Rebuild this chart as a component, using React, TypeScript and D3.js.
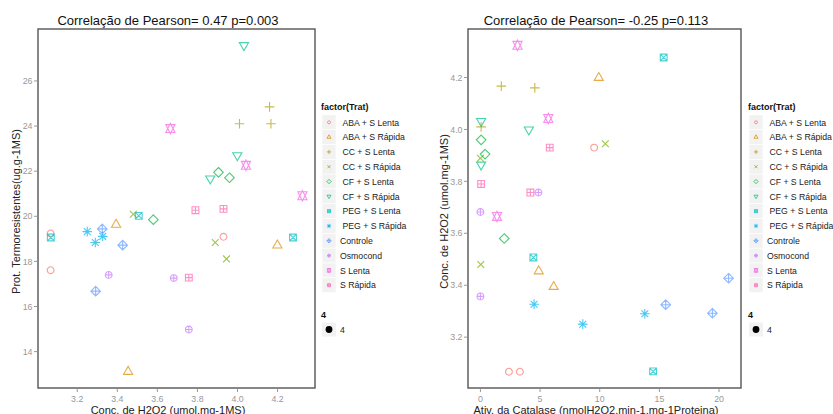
import * as d3 from "d3";

// treatment levels, in legend order
const treatments = [
  " ABA + S Lenta", " ABA + S Rápida", " CC + S Lenta", " CC + S Rápida",
  " CF + S Lenta", " CF + S Rápida", " PEG + S Lenta", " PEG + S Rápida",
  "Controle", "Osmocond", "S Lenta", "S Rápida",
];

// one entry per observation (3 per treatment)
const pointTrat = [0, 0, 0, 1, 1, 1, 2, 2, 2, 3, 3, 3, 4, 4, 4, 5, 5, 5,
  6, 6, 6, 7, 7, 7, 8, 8, 8, 9, 9, 9, 10, 10, 10, 11, 11, 11];

const h2o2 = [3.067, 3.067, 3.93, 3.394, 4.199, 3.454, 4.16, 4.01, 4.167,
  3.48, 3.889, 3.945, 3.905, 3.96, 3.58, 4.032, 3.999, 3.864,
  3.507, 3.068, 4.277, 3.25, 3.327, 3.29, 3.325, 3.427, 3.292,
  3.357, 3.682, 3.757, 3.665, 4.042, 4.324, 3.79, 3.93, 3.757];

const prot = [19.24, 17.61, 19.09, 19.63, 18.71, 13.11, 24.85, 24.1, 24.1,
  20.09, 18.84, 18.11, 21.95, 21.71, 19.85, 27.58, 22.7, 21.67,
  20.02, 19.06, 19.06, 19.32, 19.11, 18.84, 19.44, 18.72, 16.68,
  17.4, 17.26, 14.98, 23.89, 22.26, 20.91, 20.27, 20.33, 17.28];

const catalase = [2.39, 3.31, 9.53, 6.14, 9.92, 4.89, 4.56, 0.06, 1.75,
  0.03, 0.0, 10.47, 0.39, 0.06, 2.0, 0.06, 4.06, 0.06,
  4.44, 14.47, 15.36, 8.58, 4.5, 13.78, 15.53, 20.8, 19.44,
  0.0, 0.0, 4.86, 1.39, 5.69, 3.11, 0.06, 5.81, 4.19];

const leftXTicks = [3.2, 3.4, 3.6, 3.8, 4.0, 4.2];
const leftYTicks = [14, 16, 18, 20, 22, 24, 26];
const rightXTicks = [0, 5, 10, 15, 20];
const rightYTicks = [3.2, 3.4, 3.6, 3.8, 4.0, 4.2];

const palette = ["#F8766D", "#DE8C00", "#B79F00", "#7CAE00", "#00BA38", "#00C08B",
  "#00BFC4", "#00B4F0", "#619CFF", "#C77CFF", "#F564E3", "#FF64B0"];

const FONT = "'Liberation Sans', Arial, sans-serif";
const TRC0 = 1.5551203, TRC1 = 1.3467737, TRC2 = 0.7775602;

function symbolPath(pch: number, R: number) {
  const s2 = Math.SQRT2 * R;
  const circle = (r: number) => `M${-r},0A${r},${r} 0 1,0 ${r},0A${r},${r} 0 1,0 ${-r},0Z`;
  const plus = (c: number) => `M${-c},0H${c}M0,${-c}V${c}`;
  const cross = (c: number) => `M${-c},${-c}L${c},${c}M${-c},${c}L${c},${-c}`;
  const square = (c: number) => `M${-c},${-c}H${c}V${c}H${-c}Z`;
  const diamond = (c: number) => `M0,${-c}L${c},0L0,${c}L${-c},0Z`;
  const r = TRC0 * R, xc = TRC1 * R, yc = TRC2 * R;
  switch (pch) {
    case 1: return circle(R);
    case 2: return `M0,${-r}L${xc},${yc}L${-xc},${yc}Z`;
    case 3: return plus(s2);
    case 4: return cross(R);
    case 5: return diamond(s2);
    case 6: return `M0,${r}L${xc},${-yc}L${-xc},${-yc}Z`;
    case 7: return square(R) + cross(R);
    case 8: return cross(R) + plus(s2);
    case 9: return diamond(s2) + plus(s2);
    case 10: return circle(R) + plus(R);
    case 11: {
      const y2 = 0.5 * (yc + r);
      return `M0,${-r}L${xc},${y2}L${-xc},${y2}Z` + `M0,${r}L${xc},${-y2}L${-xc},${-y2}Z`;
    }
    default: return square(R) + plus(R);
  }
}

function expandDomain(vals: number[]) {
  const [lo, hi] = d3.extent(vals) as [number, number];
  const pad = (hi - lo) * 0.05;
  return [lo - pad, hi + pad];
}

type PanelProps = {
  left: number; right: number; top: number; bottom: number;
  xs: number[]; ys: number[]; xTicks: number[]; yTicks: number[];
  xFmt: (v: number) => string; yFmt: (v: number) => string;
  title: string; xTitle: string; yTitle: string; yTitleX: number; titleCx: number;
};

function Panel(p: PanelProps) {
  const x = d3.scaleLinear().domain(expandDomain(p.xs)).range([p.left, p.right]);
  const y = d3.scaleLinear().domain(expandDomain(p.ys)).range([p.bottom, p.top]);
  const midY = (p.top + p.bottom) / 2;
  return (
    <g>
      <text x={p.titleCx} y={25} textAnchor="middle" fontSize={13} fill="#111">{p.title}</text>
      {p.xs.map((v, i) => (
        <path key={i} d={symbolPath(pointTrat[i] + 1, 3.4)}
          transform={`translate(${x(v)},${y(p.ys[i])})`}
          fill="none" stroke={palette[pointTrat[i]]} strokeWidth={1.1} opacity={0.72} />
      ))}
      <rect x={p.left} y={p.top} width={p.right - p.left} height={p.bottom - p.top}
        fill="none" stroke="#555" strokeWidth={1.4} />
      {p.xTicks.map((t) => (
        <g key={t}>
          <line x1={x(t)} x2={x(t)} y1={p.bottom + 0.7} y2={p.bottom + 4} stroke="#999" />
          <text x={x(t)} y={p.bottom + 13.8} textAnchor="middle" fontSize={8.8} fill="#999">{p.xFmt(t)}</text>
        </g>
      ))}
      {p.yTicks.map((t) => (
        <g key={t}>
          <line x1={p.left - 4} x2={p.left - 0.7} y1={y(t)} y2={y(t)} stroke="#999" />
          <text x={p.left - 5.5} y={y(t) + 3.2} textAnchor="end" fontSize={8.8} fill="#999">{p.yFmt(t)}</text>
        </g>
      ))}
      <text x={p.titleCx} y={413.5} textAnchor="middle" fontSize={11} fill="#222">{p.xTitle}</text>
      <text transform={`translate(${p.yTitleX},${midY + 3}) rotate(-90)`} textAnchor="middle"
        fontSize={11} fill="#222">{p.yTitle}</text>
    </g>
  );
}

function Legend({ x0 }: { x0: number }) {
  const rowY = d3.scaleLinear().domain([0, treatments.length - 1]).range([122.3, 285.2]);
  return (
    <g fontFamily={FONT}>
      <text x={x0 - 1} y={110} fontSize={9} fontWeight="bold" fill="#111">factor(Trat)</text>
      {treatments.map((t, i) => (
        <g key={t}>
          <rect x={x0} y={rowY(i) - 7.4} width={14} height={14.8} fill="#F2F2F2" stroke="#fff" strokeWidth={0.6} />
          <path d={symbolPath(i + 1, 1.5)} transform={`translate(${x0 + 7},${rowY(i)})`}
            fill="none" stroke={palette[i]} strokeWidth={1} opacity={0.75} />
          <text x={x0 + 18 + (t.startsWith(" ") ? 2.4 : 0)} y={rowY(i) + 3.2} fontSize={8.7} fill="#222">{t.trim()}</text>
        </g>
      ))}
      <text x={x0 - 1} y={318} fontSize={9} fontWeight="bold" fill="#111">4</text>
      <rect x={x0} y={322.5} width={14} height={14} fill="#F2F2F2" />
      <circle cx={x0 + 7} cy={329.5} r={3.4} fill="#000" />
      <text x={x0 + 18} y={332.7} fontSize={8.7} fill="#222">4</text>
    </g>
  );
}

export default function App() {
  const fmt1 = (v: number) => v.toFixed(1);
  const fmt0 = (v: number) => String(v);
  return (
    <svg width={833} height={414} style={{ position: "absolute", left: 0, top: 0, background: "#fff" }}
      fontFamily={FONT}>
      <rect width={833} height={414} fill="#fff" />
      <Panel left={38} right={315} top={29} bottom={388} xs={h2o2} ys={prot}
        xTicks={leftXTicks} yTicks={leftYTicks} xFmt={fmt1} yFmt={fmt0}
        title="Correlação de Pearson= 0.47 p=0.003" xTitle="Conc. de H2O2 (umol.mg-1MS)"
        yTitle="Prot. Termoresistentes(ug.g-1MS)" yTitleX={20} titleCx={168} />
      <Legend x0={322} />
      <Panel left={468} right={741} top={29} bottom={388} xs={catalase} ys={h2o2}
        xTicks={rightXTicks} yTicks={rightYTicks} xFmt={fmt0} yFmt={fmt1}
        title="Correlação de Pearson= -0.25 p=0.113" xTitle="Ativ. da Catalase (nmolH2O2.min-1.mg-1Proteina)"
        yTitle="Conc. de H2O2 (umol.mg-1MS)" yTitleX={448} titleCx={596} />
      <Legend x0={749} />
    </svg>
  );
}
